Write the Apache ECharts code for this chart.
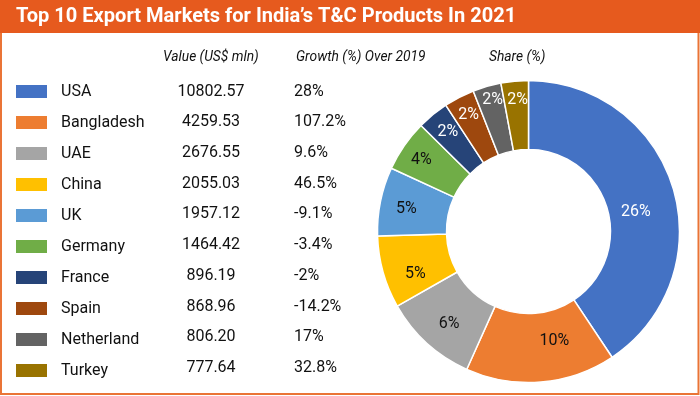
<!DOCTYPE html>
<html>
<head>
<meta charset="utf-8">
<script src="https://cdn.jsdelivr.net/npm/echarts@6/dist/echarts.min.js"></script>
<style>html,body{margin:0;padding:0;background:#fff}#c{width:700px;height:396px}</style>
</head>
<body>
<div id="c"></div>
<script>
var title = "Top 10 Export Markets for India\u2019s T&C Products In 2021";
var headers = ["Value (US$ mln)", "Growth (%) Over 2019", "Share (%)"];
var countries = ["USA","Bangladesh","UAE","China","UK","Germany","France","Spain","Netherland","Turkey"];
var values = [10802.57, 4259.53, 2676.55, 2055.03, 1957.12, 1464.42, 896.19, 868.96, 806.20, 777.64];
var growth = ["28%","107.2%","9.6%","46.5%","-9.1%","-3.4%","-2%","-14.2%","17%","32.8%"];
var shares = ["26%","10%","6%","5%","5%","4%","2%","2%","2%","2%"];

/* styling only */
var colors = ["#4472C4","#ED7D31","#A5A5A5","#FFC000","#5B9BD5","#70AD47","#264478","#9E480E","#636363","#997300"];
var labelColors = ["#fff","#111","#111","#111","#111","#111","#fff","#fff","#fff","#fff"];
var labelOffsets = [[-7,15],[16,-10],[1,4],[2,10],[-5,1],[-9,-3],[-5,-7],[-5,-10],[-3,-17],[0,-13]];
var FONT = "Roboto";
var rowTop = 91.5, rowStep = 30.74;

var chart = echarts.init(document.getElementById('c'), null, {renderer:'canvas'});

var graphics = [
  {type:'rect', shape:{x:1, y:1, width:697.5, height:393}, style:{fill:'#fff', stroke:'#EA7436', lineWidth:2}, z:-10},
  {type:'rect', shape:{x:0, y:0, width:700, height:33}, style:{fill:'#E65A1E'}, z:-5},
  {type:'text', x:16, y:17, scaleX:0.955, style:{text:title, fill:'#fff', font:'bold 21px ' + FONT, textVerticalAlign:'middle'}},
  {type:'text', x:163, y:58, style:{text:headers[0], fill:'#111', font:'italic 13.8px ' + FONT, textVerticalAlign:'middle'}},
  {type:'text', x:296, y:58, style:{text:headers[1], fill:'#111', font:'italic 13.8px ' + FONT, textVerticalAlign:'middle'}},
  {type:'text', x:489, y:58, style:{text:headers[2], fill:'#111', font:'italic 13.8px ' + FONT, textVerticalAlign:'middle'}}
];
values.forEach(function(v, i){
  var y = rowTop + i*rowStep;
  graphics.push({type:'text', x:211, y:y, style:{text:v.toFixed(2), fill:'#111', font:'16px ' + FONT, textAlign:'center', textVerticalAlign:'middle'}});
  graphics.push({type:'text', x:294, y:y, style:{text:growth[i], fill:'#111', font:'16px ' + FONT, textVerticalAlign:'middle'}});
});

chart.setOption({
  animation:false,
  color: colors,
  graphic: graphics,
  legend: {
    orient:'vertical', left:9, top:78, height:340,
    itemWidth:33, itemHeight:15, itemGap:14,
    icon:'rect', selectedMode:false,
    textStyle:{fontFamily:FONT, fontSize:16, color:'#111', padding:[0,0,0,8]},
    data: countries
  },
  series:[{
    type:'pie',
    center:[528.5,231.5],
    radius:[82,151],
    startAngle:90,
    clockwise:true,
    avoidLabelOverlap:false,
    itemStyle:{borderColor:'#fff', borderWidth:1.5},
    label:{
      show:true, position:'inside', fontFamily:FONT, fontSize:16,
      formatter:function(p){ return shares[p.dataIndex]; }
    },
    labelLine:{show:false},
    data: countries.map(function(c, i){
      return {name:c, value:values[i], label:{color:labelColors[i], offset:labelOffsets[i]}};
    })
  }]
});
</script>
</body>
</html>
